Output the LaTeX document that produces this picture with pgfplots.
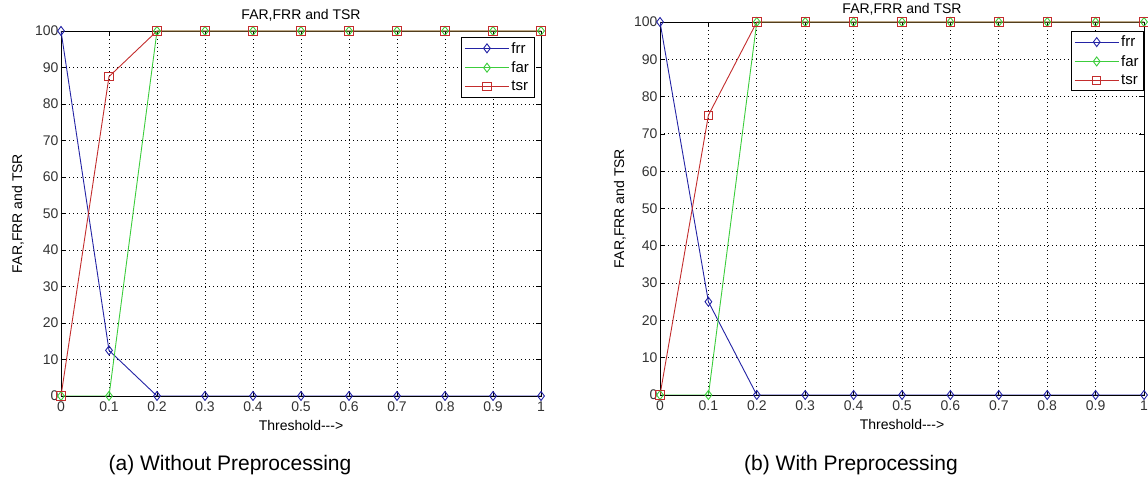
\documentclass[border=0pt]{standalone}
\usepackage{pgfplots}
\pgfplotsset{compat=1.18}
\usepackage{fontspec}
\setmainfont{Liberation Sans}
\definecolor{cfrr}{RGB}{35,35,165}
\definecolor{cfar}{RGB}{60,205,60}
\definecolor{ctsr}{RGB}{195,45,45}
\pgfplotsset{
  mlab/.style={
    scale only axis,
    xmin=0, xmax=1, ymin=0, ymax=100,
    xtick={0,0.1,0.2,0.3,0.4,0.5,0.6,0.7,0.8,0.9,1},
    xticklabels={0,0.1,0.2,0.3,0.4,0.5,0.6,0.7,0.8,0.9,1},
    ytick={0,10,20,30,40,50,60,70,80,90,100},
    yticklabels={0,10,20,30,40,50,60,70,80,90,100},
    grid=major,
    major grid style={black, line width=0.8pt, dash pattern=on 1pt off 3pt},
    tick align=inside,
    major tick length=5pt,
    tick style={black, line width=0.7pt},
    axis line style={black, line width=0.8pt},
    ticklabel style={font=\fontsize{14}{14}\selectfont, text=black!80},
    xticklabel style={yshift=-2pt},
    yticklabel style={xshift=1pt},
    title={FAR,FRR and TSR},
    xlabel={Threshold-{}-{}->},
    ylabel={FAR,FRR and TSR},
    label style={font=\fontsize{14}{14}\selectfont},
    title style={font=\fontsize{14}{14}\selectfont, at={(axis description cs:0.5,1)}, anchor=center},
    xlabel style={at={(axis description cs:0.5,0)}, anchor=center, yshift=-30pt},
    ylabel style={at={(axis description cs:0,0.5)}, anchor=center},
    legend style={draw=black, fill=white, line width=0.7pt,
      font=\fontsize{15}{15}\selectfont, cells={anchor=west},
      row sep=3pt, inner sep=3pt},
    legend image code/.code={%
      \draw[mark repeat=2, mark phase=2] plot coordinates {(0pt,0pt) (22pt,0pt) (44pt,0pt)};},
    every axis plot/.append style={line width=0.9pt},
  },
  frr/.style={color=cfrr, mark=diamond, mark size=4.5pt, mark options={solid, fill=none}},
  far/.style={color=cfar, mark=diamond, mark size=4.5pt, mark options={solid, fill=none}},
  tsr/.style={color=ctsr, mark=square, mark size=4.2pt, mark options={solid, fill=none}},
}
\begin{document}
\begin{tikzpicture}[x=1pt, y=1pt]
\path[use as bounding box] (0,0) rectangle (1148,486);

% (a) without preprocessing
\begin{axis}[mlab,
  at={(61pt,90pt)}, anchor=south west,
  width=480pt, height=365pt,
  title style={yshift=9.5pt},
  ylabel style={yshift=43pt},
  legend style={at={(rel axis cs:0.986,0.984)}, anchor=north east},
]
\addplot[frr] coordinates {(0,100) (0.1,12.5) (0.2,0) (0.3,0) (0.4,0) (0.5,0) (0.6,0) (0.7,0) (0.8,0) (0.9,0) (1,0)};
\addplot[far] coordinates {(0,0) (0.1,0) (0.2,100) (0.3,100) (0.4,100) (0.5,100) (0.6,100) (0.7,100) (0.8,100) (0.9,100) (1,100)};
\addplot[tsr] coordinates {(0,0) (0.1,87.5) (0.2,100) (0.3,100) (0.4,100) (0.5,100) (0.6,100) (0.7,100) (0.8,100) (0.9,100) (1,100)};
\legend{frr, far, tsr}
\end{axis}

% (b) with preprocessing
\begin{axis}[mlab,
  at={(660pt,91pt)}, anchor=south west,
  width=484pt, height=373pt,
  title style={yshift=7pt},
  ylabel style={yshift=40pt},
  legend style={at={(rel axis cs:1,0.977)}, anchor=north east},
]
\addplot[frr] coordinates {(0,100) (0.1,25) (0.2,0) (0.3,0) (0.4,0) (0.5,0) (0.6,0) (0.7,0) (0.8,0) (0.9,0) (1,0)};
\addplot[far] coordinates {(0,0) (0.1,0) (0.2,100) (0.3,100) (0.4,100) (0.5,100) (0.6,100) (0.7,100) (0.8,100) (0.9,100) (1,100)};
\addplot[tsr] coordinates {(0,0) (0.1,75) (0.2,100) (0.3,100) (0.4,100) (0.5,100) (0.6,100) (0.7,100) (0.8,100) (0.9,100) (1,100)};
\legend{frr, far, tsr}
\end{axis}

\node[font=\fontsize{21}{21}\selectfont] at (230,21) {(a) Without Preprocessing};
\node[font=\fontsize{21}{21}\selectfont] at (851,21) {(b) With Preprocessing};
\end{tikzpicture}
\end{document}
